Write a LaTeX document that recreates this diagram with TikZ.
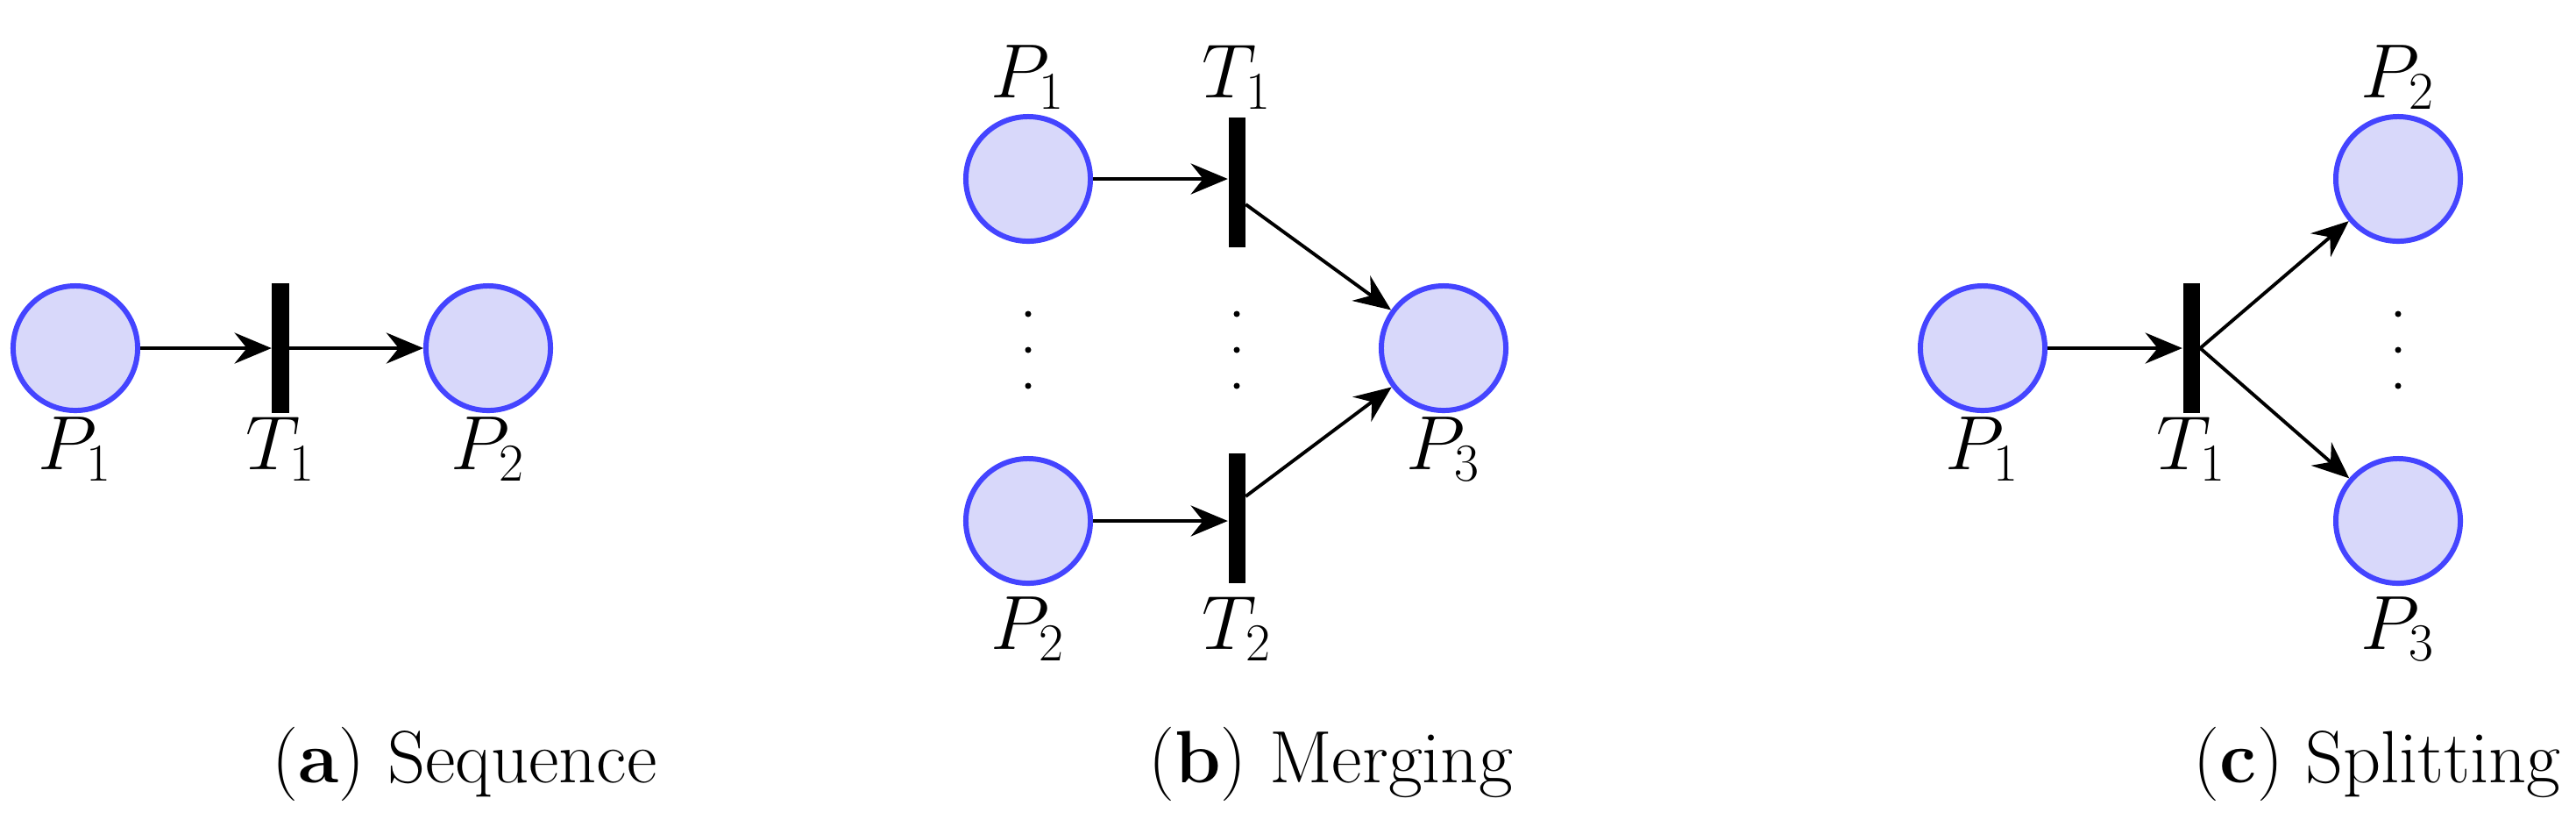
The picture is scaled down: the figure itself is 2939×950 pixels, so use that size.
\documentclass[tikz,border=0pt]{standalone}
\usetikzlibrary{arrows.meta}
\begin{document}
\begin{tikzpicture}[x=0.01cm,y=-0.01cm,
  place/.style={circle,draw={rgb,255:red,68;green,68;blue,255},fill={rgb,255:red,216;green,216;blue,250},line width=1.7pt,minimum size=1.42cm,inner sep=0pt},
  trans/.style={rectangle,fill=black,minimum width=0.19cm,minimum height=1.48cm,inner sep=0pt},
  lab/.style={font=\fontsize{24}{28}\selectfont},
  arc/.style={-{Stealth[length=12pt,width=10pt,inset=4pt]},line width=1.1pt},
  dot/.style={circle,fill=black,minimum size=0.07cm,inner sep=0pt}]
\useasboundingbox (0,0) rectangle (2939,950);
% (a)
\node[place] (a1) at (86,397) {};
\node[trans] (at) at (320,397) {};
\node[place] (a2) at (557,397) {};
\draw[arc] (a1) -- (at);
\draw[arc] (at) -- (a2);
\node[lab] (la1) at (86,512) {$P_1$};
\node[lab] (lat) at (320,512) {$T_1$};
\node[lab] (la2) at (557,512) {$P_2$};
\node[lab] (ca) at (530,871) {(\textbf{a}) Sequence};
% (b)
\node[place] (b1) at (1173,204) {};
\node[place] (b2) at (1173,594) {};
\node[trans] (bt1) at (1411,208) {};
\node[trans] (bt2) at (1411,591) {};
\node[place] (b3) at (1647,397) {};
\draw[arc] (b1) -- (bt1.west|-b1);
\draw[arc] (b2) -- (bt2.west|-b2);
\draw[arc] ([yshift=-0.25cm]bt1.east) -- (b3);
\draw[arc] ([yshift=0.25cm]bt2.east) -- (b3);
\node[lab] (lb1) at (1173,88) {$P_1$};
\node[lab] (lbt1) at (1411,88) {$T_1$};
\node[lab] (lb2) at (1173,717) {$P_2$};
\node[lab] (lbt2) at (1411,717) {$T_2$};
\node[lab] (lb3) at (1647,512) {$P_3$};
\foreach \x/\n in {1173/b1,1411/b2,2736/c}{
  \node[dot] (d\n a) at (\x,358) {};
  \node[dot] (d\n b) at (\x,399) {};
  \node[dot] (d\n c) at (\x,440) {};
}
\node[lab] (cb) at (1518,871) {(\textbf{b}) Merging};
% (c)
\node[place] (c1) at (2262,397) {};
\node[trans] (ct) at (2500,397) {};
\node[place] (c2) at (2736,204) {};
\node[place] (c3) at (2736,594) {};
\draw[arc] (c1) -- (ct);
\draw[arc] (ct.east) -- (c2);
\draw[arc] (ct.east) -- (c3);
\node[lab] (lc1) at (2262,512) {$P_1$};
\node[lab] (lct) at (2500,512) {$T_1$};
\node[lab] (lc2) at (2736,88) {$P_2$};
\node[lab] (lc3) at (2736,717) {$P_3$};
\node[lab,anchor=east] (cc) at (2934,871) {(\textbf{c}) Splitting};
\end{tikzpicture}
\end{document}
